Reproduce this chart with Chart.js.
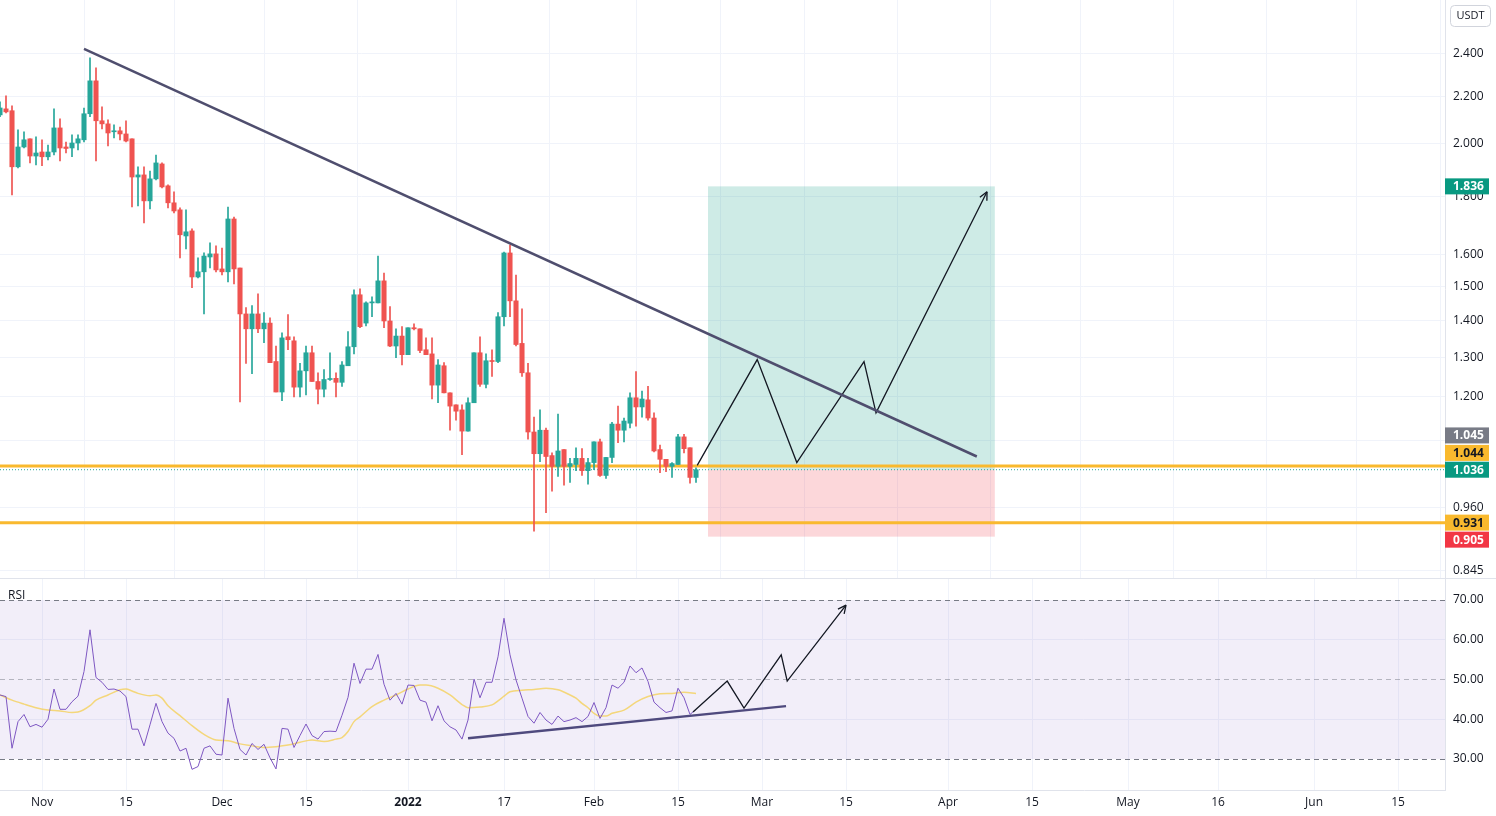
<!DOCTYPE html>
<html lang="en">
<head>
<meta charset="UTF-8">
<title>USDT pair - daily candles with RSI</title>
<script src="https://cdn.jsdelivr.net/npm/chart.js"></script>
<style>
  html, body { margin: 0; padding: 0; background: #fff; }
  #wrap { position: relative; width: 1496px; height: 816px; overflow: hidden; }
  #priceChart { position: absolute; left: 0; top: 0; }
  #rsiChart { position: absolute; left: 0; top: 578px; }
</style>
</head>
<body>
<div id="wrap">
  <canvas id="priceChart" width="1496" height="578"></canvas>
  <canvas id="rsiChart" width="1496" height="238"></canvas>
</div>
<script>
// day index: 0 = 1 Nov 2021, one candle per day, first candle is day -7
const firstDay = -7;
const opens = [2.121,2.147,2.139,1.910,1.988,2.021,1.952,1.968,1.949,1.968,2.066,1.988,1.984,2.004,2.017,2.126,2.272,2.096,2.083,2.050,
  2.054,2.041,2.021,1.871,1.879,1.783,1.864,1.921,1.838,1.776,1.751,1.661,1.678,1.529,1.545,1.592,1.602,1.554,1.545,1.719,
  1.557,1.419,1.377,1.419,1.377,1.393,1.289,1.212,1.355,1.344,1.224,1.265,1.312,1.238,1.219,1.243,1.246,1.236,1.278,1.328,
  1.475,1.393,1.451,1.451,1.517,1.399,1.330,1.357,1.307,1.380,1.377,1.320,1.309,1.229,1.278,1.210,1.181,1.169,1.120,1.186,
  1.312,1.231,1.291,1.289,1.411,1.605,1.457,1.337,1.260,1.118,1.070,1.122,1.066,1.043,1.079,1.043,1.047,1.060,1.034,1.051,
  1.096,1.024,1.062,1.136,1.122,1.138,1.198,1.176,1.193,1.150,1.079,1.058,1.043,1.047,1.107,1.083,1.020];
const highs = [2.178,2.204,2.160,2.058,2.050,2.021,2.029,2.017,1.996,2.147,2.104,2.008,2.037,2.037,2.151,2.380,2.332,2.156,2.100,2.079,
  2.070,2.096,2.021,1.910,1.910,1.894,1.956,1.925,1.842,1.816,1.758,1.751,1.685,1.589,1.605,1.638,1.628,1.621,1.761,1.726,
  1.557,1.437,1.443,1.478,1.423,1.408,1.330,1.366,1.417,1.355,1.284,1.330,1.330,1.260,1.268,1.312,1.260,1.289,1.369,1.490,
  1.493,1.454,1.469,1.595,1.541,1.440,1.377,1.383,1.380,1.391,1.377,1.352,1.352,1.294,1.286,1.210,1.181,1.181,1.198,1.312,
  1.355,1.309,1.320,1.423,1.608,1.631,1.535,1.434,1.284,1.152,1.169,1.127,1.072,1.159,1.079,1.060,1.083,1.081,1.060,1.096,
  1.102,1.062,1.140,1.178,1.150,1.210,1.263,1.214,1.226,1.162,1.089,1.058,1.051,1.113,1.113,1.083,1.040];
const lows = [2.113,2.130,1.805,1.906,1.984,1.925,1.917,1.914,1.937,1.956,1.933,1.964,1.949,1.976,2.008,2.113,1.933,2.062,1.992,2.025,
  2.017,2.008,1.761,1.765,1.705,1.754,1.860,1.830,1.758,1.740,1.589,1.618,1.496,1.526,1.419,1.557,1.545,1.535,1.514,1.508,
  1.188,1.284,1.258,1.366,1.339,1.286,1.212,1.191,1.320,1.200,1.200,1.205,1.238,1.183,1.200,1.241,1.200,1.226,1.278,1.309,
  1.380,1.385,1.411,1.451,1.380,1.328,1.299,1.280,1.307,1.374,1.312,1.307,1.195,1.186,1.210,1.122,1.145,1.068,1.120,1.186,
  1.226,1.222,1.251,1.286,1.385,1.411,1.330,1.251,1.102,0.915,1.053,0.950,0.992,1.022,1.004,1.010,1.034,1.024,1.006,1.036,
  1.022,1.018,1.051,1.094,1.096,1.127,1.131,1.152,1.145,1.074,1.030,1.032,1.020,1.047,1.072,1.008,1.010];
const closes = [2.151,2.134,1.910,1.988,2.017,1.952,1.964,1.949,1.968,2.066,1.984,1.982,2.004,2.021,2.126,2.272,2.096,2.083,2.045,2.054,
  2.041,2.012,1.871,1.879,1.783,1.864,1.925,1.834,1.776,1.747,1.665,1.675,1.529,1.545,1.595,1.602,1.551,1.545,1.719,1.554,
  1.419,1.377,1.419,1.377,1.393,1.286,1.212,1.352,1.347,1.224,1.265,1.312,1.238,1.219,1.243,1.245,1.236,1.280,1.328,1.475,
  1.383,1.451,1.454,1.517,1.399,1.330,1.357,1.307,1.380,1.377,1.318,1.307,1.229,1.280,1.210,1.178,1.166,1.120,1.186,1.312,
  1.231,1.291,1.289,1.411,1.605,1.457,1.334,1.260,1.118,1.070,1.122,1.064,1.043,1.076,1.043,1.049,1.060,1.034,1.051,1.096,
  1.024,1.062,1.136,1.122,1.143,1.198,1.176,1.195,1.150,1.076,1.058,1.043,1.049,1.107,1.081,1.020,1.036];

// RSI(14), one value per candle
const rsiValues = [46.1,45.7,32.7,39.4,41.2,38.1,38.7,38.0,40.0,47.6,42.5,42.5,44.4,45.8,52.0,62.5,50.5,49.3,47.5,47.6,
  47.1,45.7,37.5,37.5,33.3,38.6,44.0,39.4,36.5,35.2,32.0,32.7,27.4,28.1,32.7,33.3,31.2,31.0,45.3,37.7,
  32.4,31.0,33.9,32.4,33.7,30.3,27.5,37.7,37.5,32.9,35.9,38.8,35.9,35.0,36.9,37.0,36.9,41.0,45.5,54.1,
  49.0,52.6,52.6,56.3,48.8,44.8,46.5,43.8,48.6,48.5,44.8,44.3,39.6,43.4,39.6,38.1,37.3,35.0,39.8,50.1,
  45.4,49.3,49.3,55.7,65.4,56.2,49.9,45.3,40.7,39.0,41.7,39.8,38.7,40.8,39.4,39.8,40.4,39.4,40.7,44.2,
  40.2,42.9,48.6,47.8,49.3,53.4,51.7,52.9,49.5,44.3,42.9,41.7,42.1,47.8,45.4,41.2,42.5];
// RSI moving average, read at these days
const maDays = [-7,-5,-3,-1,1,3,5,6,8,9,11,13,14,15,16,18,19,20,21,23,25,27,29,31,33,35,37,39,41,43,45,47,49,50,51,52,53,55,57,59,
  61,63,64,66,68,70,71,73,75,76,77,78,80,82,84,86,88,89,90,91,92,93,94,95,97,99,101,103,105,107,109];
const maValues = [46.1,44.8,43.8,42.9,42.3,42.1,41.7,41.8,43.4,44.8,46.1,47.4,47.6,47.1,46.5,45.9,46.1,45.3,43.4,40.9,38.4,36.2,34.8,34.6,33.8,33.3,32.9,33.1,33.5,34.2,34.8,34.4,35.0,35.4,36.9,39.4,40.6,43.2,44.8,46.1,
  47.6,48.6,48.6,47.8,46.1,43.7,42.9,43.1,43.6,44.6,45.8,46.9,47.3,47.5,47.8,47.4,46.1,45.3,44.0,42.9,41.5,40.8,40.8,41.5,42.3,44.3,45.7,46.4,46.5,46.8,46.5];

// drawings on the price pane
const trendDays = [7, 155.8];
const trendPrices = [2.424, 1.064];
const pathDays = [109.2, 119.2, 125.8, 137, 139, 157.5];
const pathPrices = [1.045, 1.294, 1.051, 1.289, 1.162, 1.816];
const levelPrices = [1.044, 0.931];
const lastPrice = 1.036;
const boxDays = [111, 158.8];
const targetPrice = 1.836, entryPrice = 1.036, stopPrice = 0.905;
const priceTicks = [2.4, 2.2, 2.0, 1.8, 1.6, 1.5, 1.4, 1.3, 1.2, 1.1, 0.96, 0.845];
const axisLabels = [
  { value: 1.836, text: '1.836', bg: '#089981', fg: '#ffffff', shift: 0 },
  { value: 1.045, text: '1.045', bg: '#787b86', fg: '#ffffff', shift: -30 },
  { value: 1.044, text: '1.044', bg: '#f9b92e', fg: '#131722', shift: -13 },
  { value: 1.036, text: '1.036', bg: '#089981', fg: '#ffffff', shift: 0 },
  { value: 0.931, text: '0.931', bg: '#f9b92e', fg: '#131722', shift: 0 },
  { value: 0.905, text: '0.905', bg: '#f23645', fg: '#ffffff', shift: 3 }
];

// drawings on the RSI pane
const rsiTrendDays = [71, 124];
const rsiTrendValues = [35.2, 43.3];
const rsiPathDays = [108.5, 114.2, 117, 123.2, 124.2, 134];
const rsiPathValues = [41.8, 49.6, 42.8, 56.2, 49.6, 68.7];
const rsiTicks = [70, 60, 50, 40, 30];

// time axis
const tickDays = [0, 14, 30, 44, 61, 77, 92, 106, 120, 134, 151, 165, 181, 196, 212, 226];
const tickLabels = ['Nov', '15', 'Dec', '15', '2022', '17', 'Feb', '15', 'Mar', '15', 'Apr', '15', 'May', '16', 'Jun', '15'];

const X_MIN = -7, X_MAX = 233.83;
const UP = '#26a69a', DOWN = '#ef5350';
const GRID = '#f0f3fa';

Chart.defaults.font.family = "'Open Sans', 'Noto Sans', sans-serif";
Chart.defaults.font.size = 12;
Chart.defaults.color = '#131722';
Chart.defaults.animation = false;

const days = opens.map((_, i) => firstDay + i);
const candleColors = opens.map((o, i) => closes[i] >= o ? UP : DOWN);
const pts = (xs, ys) => xs.map((x, i) => ({ x: x, y: ys[i] }));
const noPad = s => { s.paddingTop = 0; s.paddingBottom = 0; s.paddingLeft = 0; s.paddingRight = 0; };

function arrowHead(ctx, meta, color) {
  const n = meta.data.length;
  const a = meta.data[n - 2], b = meta.data[n - 1];
  const ang = Math.atan2(b.y - a.y, b.x - a.x);
  ctx.save();
  ctx.strokeStyle = color;
  ctx.lineWidth = 1.3;
  ctx.beginPath();
  [0.45, -0.45].forEach(d => {
    ctx.moveTo(b.x, b.y);
    ctx.lineTo(b.x - 9 * Math.cos(ang + d), b.y - 9 * Math.sin(ang + d));
  });
  ctx.stroke();
  ctx.restore();
}

const boxPlugin = {
  id: 'boxes',
  beforeDatasetsDraw(chart) {
    const { ctx, scales: { x, y } } = chart;
    const x0 = x.getPixelForValue(boxDays[0]), x1 = x.getPixelForValue(boxDays[1]);
    const yt = y.getPixelForValue(targetPrice), ye = y.getPixelForValue(entryPrice), ys = y.getPixelForValue(stopPrice);
    ctx.save();
    ctx.fillStyle = 'rgba(8,153,129,0.2)';
    ctx.fillRect(x0, yt, x1 - x0, ye - yt);
    ctx.fillStyle = 'rgba(242,54,69,0.2)';
    ctx.fillRect(x0, ye, x1 - x0, ys - ye);
    ctx.restore();
  },
  afterDatasetsDraw(chart) {
    arrowHead(chart.ctx, chart.getDatasetMeta(1), '#131722');
  },
  afterDraw(chart) {
    const { ctx, scales: { y } } = chart;
    ctx.save();
    // currency badge
    ctx.strokeStyle = '#d1d4dc';
    ctx.lineWidth = 1;
    ctx.beginPath();
    ctx.roundRect(1450.5, 5.5, 40, 21, 4);
    ctx.stroke();
    ctx.fillStyle = '#131722';
    ctx.font = "11px 'Open Sans', sans-serif";
    ctx.textBaseline = 'middle';
    ctx.textAlign = 'center';
    ctx.fillText('USDT', 1470.5, 16);
    // price labels on the axis
    ctx.textAlign = 'left';
    ctx.font = "bold 12px 'Open Sans', sans-serif";
    axisLabels.forEach(l => {
      const py = y.getPixelForValue(l.value) + l.shift;
      ctx.fillStyle = l.bg;
      ctx.fillRect(1445, py - 8, 44, 16);
      ctx.fillStyle = l.fg;
      ctx.fillText(l.text, 1453, py + 0.5);
    });
    ctx.restore();
  }
};

new Chart(document.getElementById('priceChart'), {
  type: 'bar',
  data: {
    datasets: [
      { type: 'line', data: pts(trendDays, trendPrices), borderColor: '#4f4e6e', borderWidth: 2.5, pointRadius: 0, order: 0 },
      { type: 'line', data: pts(pathDays, pathPrices), borderColor: '#131722', borderWidth: 1.3, pointRadius: 0, order: 0 },
      { data: days.map((d, i) => ({ x: d, y: [opens[i], closes[i]] })), backgroundColor: candleColors,
        barThickness: 4.4, minBarLength: 1, grouped: false, order: 1 },
      { data: days.map((d, i) => ({ x: d, y: [lows[i], highs[i]] })), backgroundColor: candleColors,
        barThickness: 1, grouped: false, order: 2 },
      { type: 'line', data: pts([X_MIN, X_MAX], [lastPrice, lastPrice]), borderColor: UP, borderWidth: 1,
        borderDash: [1, 2], pointRadius: 0, order: 3 },
      { type: 'line', data: pts([X_MIN, X_MAX], [levelPrices[0], levelPrices[0]]), borderColor: '#f9b92e', borderWidth: 3, pointRadius: 0, order: 3 },
      { type: 'line', data: pts([X_MIN, X_MAX], [levelPrices[1], levelPrices[1]]), borderColor: '#f9b92e', borderWidth: 3, pointRadius: 0, order: 3 }
    ]
  },
  options: {
    responsive: false,
    layout: { padding: 0 },
    plugins: { legend: { display: false }, tooltip: { enabled: false } },
    scales: {
      x: {
        type: 'linear', min: X_MIN, max: X_MAX, offset: false,
        grid: { color: GRID, drawTicks: false },
        border: { display: false },
        ticks: { display: false },
        afterBuildTicks: s => { s.ticks = tickDays.map(v => ({ value: v })); },
        afterFit: s => { s.height = 0; noPad(s); }
      },
      y: {
        type: 'logarithmic', position: 'right', min: 0.8325, max: 2.675, bounds: 'data',
        grid: { color: GRID, drawTicks: false },
        border: { display: true, color: '#e0e3eb' },
        ticks: { padding: 8, autoSkip: false, callback: v => Number(v).toFixed(3) },
        afterBuildTicks: s => { s.ticks = priceTicks.map(v => ({ value: v })); },
        afterFit: s => { s.width = 51; noPad(s); }
      }
    }
  },
  plugins: [boxPlugin]
});

const rsiPlugin = {
  id: 'rsiBand',
  beforeDatasetsDraw(chart) {
    const { ctx, chartArea: a, scales: { y } } = chart;
    const y70 = y.getPixelForValue(70), y30 = y.getPixelForValue(30), y50 = y.getPixelForValue(50);
    ctx.save();
    ctx.fillStyle = 'rgba(126,87,194,0.1)';
    ctx.fillRect(a.left, y70, a.right - a.left, y30 - y70);
    ctx.strokeStyle = '#787b86';
    ctx.lineWidth = 1;
    ctx.setLineDash([5, 4]);
    [y70, y30].forEach(py => {
      ctx.beginPath(); ctx.moveTo(a.left, Math.round(py) + 0.5); ctx.lineTo(a.right, Math.round(py) + 0.5); ctx.stroke();
    });
    ctx.strokeStyle = 'rgba(120,123,134,0.5)';
    ctx.beginPath(); ctx.moveTo(a.left, Math.round(y50) + 0.5); ctx.lineTo(a.right, Math.round(y50) + 0.5); ctx.stroke();
    ctx.restore();
  },
  afterDatasetsDraw(chart) {
    arrowHead(chart.ctx, chart.getDatasetMeta(1), '#131722');
  },
  afterDraw(chart) {
    const { ctx } = chart;
    ctx.save();
    ctx.strokeStyle = '#e0e3eb';
    ctx.lineWidth = 1;
    ctx.beginPath(); ctx.moveTo(0, 0.5); ctx.lineTo(1496, 0.5); ctx.stroke();
    ctx.fillStyle = '#131722';
    ctx.font = "12px 'Open Sans', sans-serif";
    ctx.textBaseline = 'middle';
    ctx.fillText('RSI', 8, 18);
    ctx.restore();
  }
};

new Chart(document.getElementById('rsiChart'), {
  type: 'line',
  data: {
    datasets: [
      { data: pts(rsiTrendDays, rsiTrendValues), borderColor: '#4f4a7e', borderWidth: 2.5, pointRadius: 0 },
      { data: pts(rsiPathDays, rsiPathValues), borderColor: '#131722', borderWidth: 1.3, pointRadius: 0 },
      { data: pts(days, rsiValues), borderColor: '#7e57c2', borderWidth: 1, pointRadius: 0, tension: 0 },
      { data: pts(maDays, maValues), borderColor: 'rgba(245,210,100,0.85)', borderWidth: 1.5, pointRadius: 0,
        cubicInterpolationMode: 'monotone' }
    ]
  },
  options: {
    responsive: false,
    layout: { padding: 0 },
    plugins: { legend: { display: false }, tooltip: { enabled: false } },
    scales: {
      x: {
        type: 'linear', min: X_MIN, max: X_MAX, offset: false,
        grid: { color: GRID, drawTicks: false },
        border: { display: true, color: '#e0e3eb' },
        ticks: {
          padding: 5, autoSkip: false, maxRotation: 0,
          callback: v => { const i = tickDays.indexOf(v); return i < 0 ? '' : tickLabels[i]; },
          font: c => (c.tick && c.tick.label === '2022') ? { weight: 'bold', size: 12 } : { size: 12 }
        },
        afterBuildTicks: s => { s.ticks = tickDays.map(v => ({ value: v })); },
        afterFit: s => { s.height = 26; noPad(s); }
      },
      y: {
        type: 'linear', position: 'right', min: 22.2, max: 75.53,
        grid: { color: c => (c.tick.value === 60 || c.tick.value === 40) ? GRID : 'rgba(0,0,0,0)', drawTicks: false },
        border: { display: true, color: '#e0e3eb' },
        ticks: { padding: 8, autoSkip: false, callback: v => Number(v).toFixed(2) },
        afterBuildTicks: s => { s.ticks = rsiTicks.map(v => ({ value: v })); },
        afterFit: s => { s.width = 51; noPad(s); }
      }
    }
  },
  plugins: [rsiPlugin]
});
</script>
</body>
</html>
